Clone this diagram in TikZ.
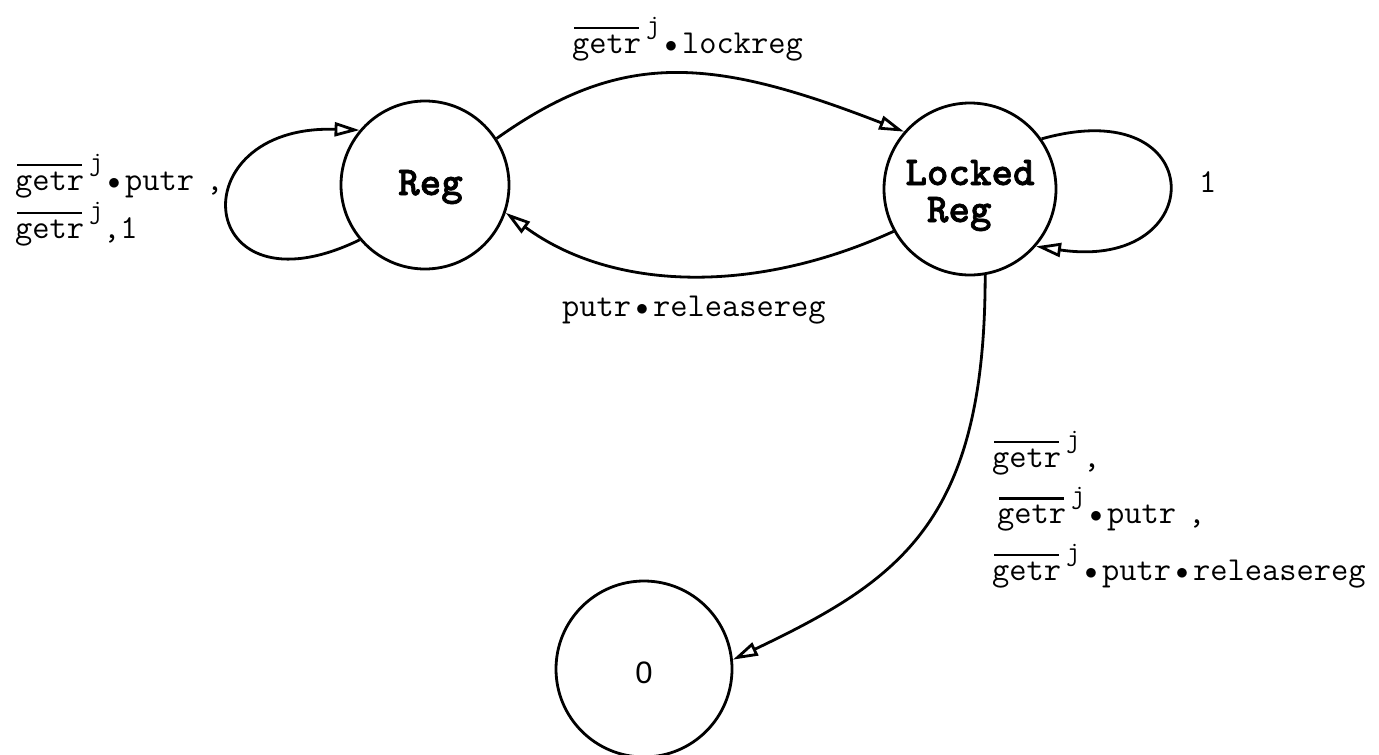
\documentclass[tikz,border=0pt]{standalone}
\usepackage{fontspec}
\usetikzlibrary{arrows.meta}
\newfontfamily\sansfam{Liberation Sans}
\newfontfamily\statefam{lmmonolt10-bold.otf}[FakeBold=1.6]
\newcommand\lblfont{\ttfamily\fontsize{33.5}{33.5}\selectfont}
\newcommand\statefont{\statefam\fontsize{41}{41}\selectfont}
% overlined word, superscript j, bullet operator
\newcommand\ovl[1]{\setbox0\hbox{#1}\rlap{\kern2pt\rule[24pt]{\dimexpr\wd0-4pt\relax}{2.2pt}}\box0}
\newcommand\supj{\kern5pt\raisebox{20pt}{\fontsize{27}{27}\selectfont j}}
\newcommand\gj{\ovl{getr}\supj}
\newcommand\bul{\makebox[22pt]{\raisebox{1pt}{\fontsize{24}{24}\selectfont$\bullet$}}}
% stacked lines with a fixed baseline distance, baseline at the first line
\newcommand\lines[2]{\vtop{\baselineskip=#1\lineskiplimit=-100pt\lineskip=0pt #2}}
\tikzset{
  state/.style={draw, circle, line width=2.8pt, inner sep=0pt},
  lbl/.style={font=\lblfont, inner sep=0pt, anchor=base west},
  edge/.style={line width=2.8pt, -{Triangle[open, length=25pt, width=14pt]}},
}
\begin{document}
\begin{tikzpicture}[x=1pt, y=-1pt]
\useasboundingbox (0,0) rectangle (1379,755);

% states
\node[state, minimum size=168pt, font=\statefont, text height=20pt, text depth=0pt] (reg) at (425,185) {\kern11pt Reg};
\node[state, minimum size=172pt, font=\statefont, text height=0pt, text depth=8pt] (lreg) at (970,189)
  {\lines{37pt}{\hbox{Locked}\hbox{\kern0.525em Reg}}};
\node[state, minimum size=176pt, font=\sansfam\fontsize{31}{31}\selectfont, text height=28pt, text depth=0pt] (zero) at (644,669) {0};

% transitions
\draw[edge] (reg.33) .. controls +(125,-89) and +(-193,-75) .. (lreg.139);
\draw[edge] (lreg.209) .. controls +(-140,64) and +(106,78) .. (reg.-19);
\draw[edge] (reg.220) .. controls +(-165,80) and +(-183,-6) .. (reg.140);
\draw[edge] (lreg.35) .. controls +(170,-48) and +(175,26) .. (lreg.-41);
\draw[edge] (lreg.-80) .. controls +(0,246) and +(168,-80) .. (zero.6);

% transition labels
\node[lbl] (tlock) at (572,53) {\gj\bul lockreg};
\node[lbl] (trel) at (562,316) {putr\bul releasereg};
\node[lbl] (tregloop) at (15,190) {\lines{48pt}{\hbox{\gj\bul putr\kern12pt,}\hbox{\gj,1}}};
\node[lbl] (tlockloop) at (1199,192) {1};
\node[lbl] (tzero) at (992,467)
  {\lines{56.5pt}{\hbox{\gj\kern3pt,}\hbox{\kern5pt\gj\bul putr\kern12pt,}\hbox{\gj\bul putr\bul releasereg}}};
\end{tikzpicture}
\end{document}
